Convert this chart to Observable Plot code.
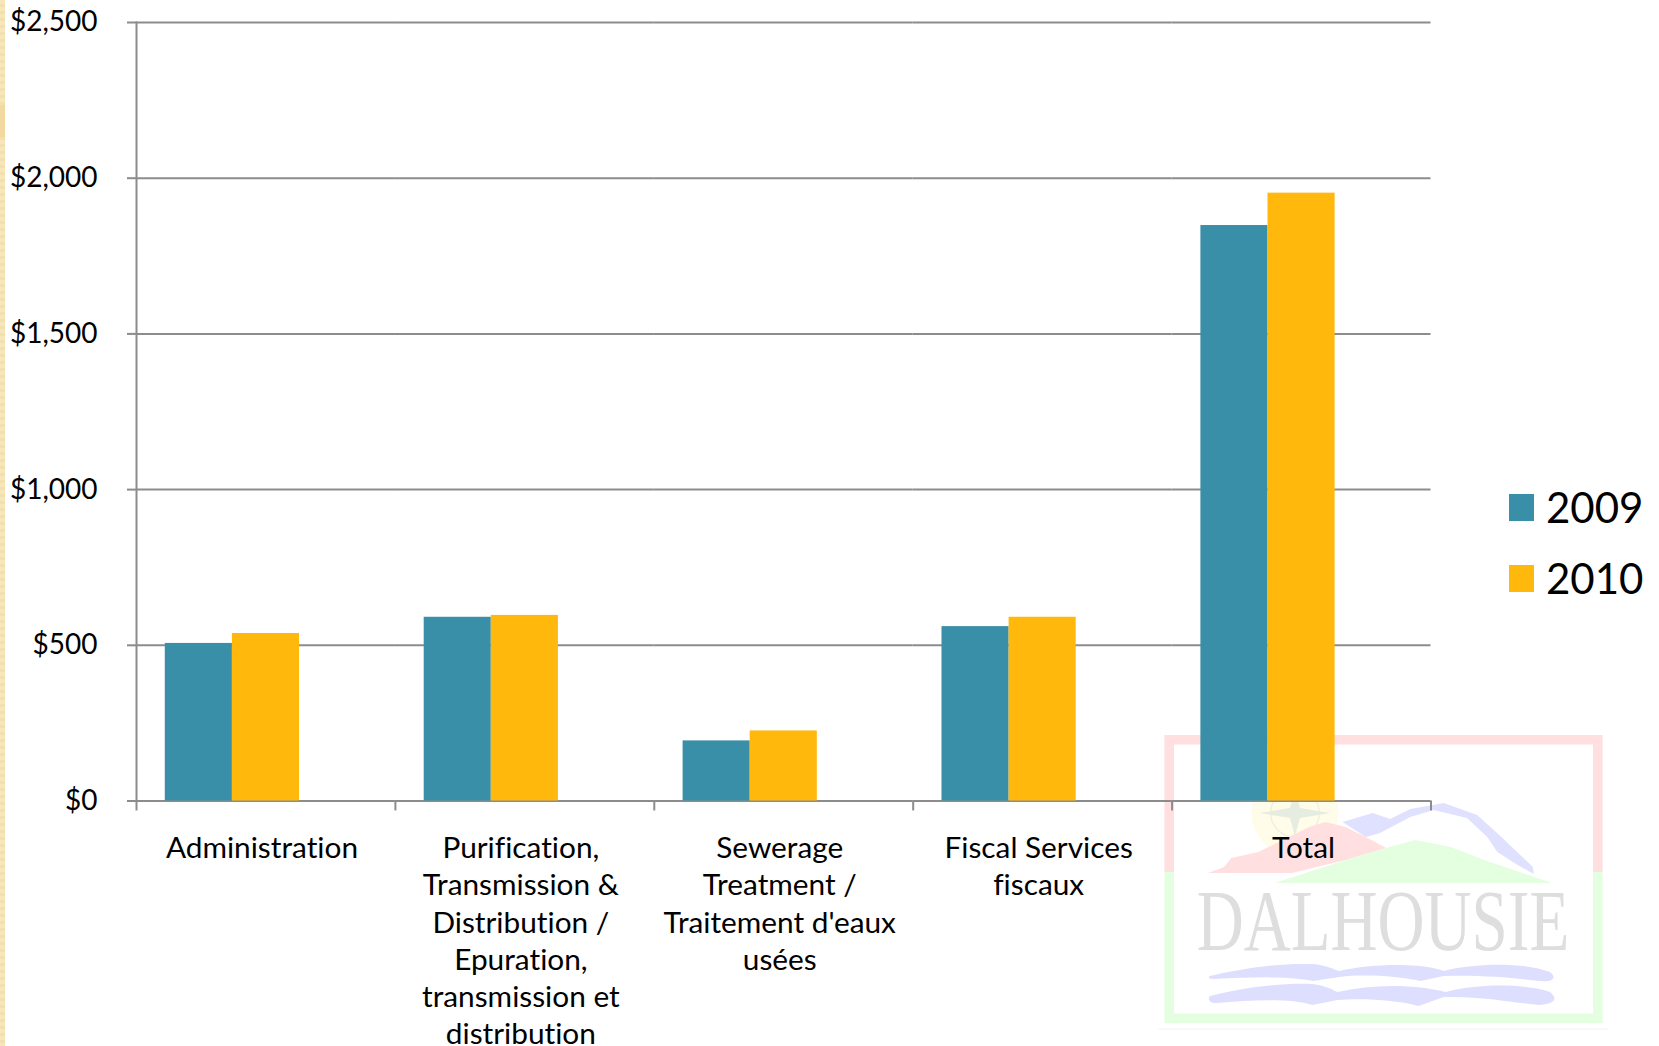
<!DOCTYPE html>
<html>
<head>
<meta charset="utf-8">
<script src="https://cdn.jsdelivr.net/npm/d3@7"></script>
<script src="https://cdn.jsdelivr.net/npm/@observablehq/plot@0.6"></script>
<style>
html,body{margin:0;padding:0;background:#fff;width:1659px;height:1046px;overflow:hidden;font-family:Lato,sans-serif;color:#000}
#strip{position:absolute;left:0;top:0;width:5px;height:1046px;background:repeating-linear-gradient(180deg,#f7e6ba 0 4px,#f1dfae 4px 7px)}
#patch{position:absolute;left:0;top:105px;width:5px;height:32px;background:#f3d99f}
#mark{position:absolute;left:0;top:0}
#chart{position:absolute;left:0;top:0}
#legend{position:absolute;left:1509px;top:0;font-size:42px;line-height:52px;font-variant-ligatures:none}
#legend div{position:absolute;left:0;white-space:nowrap;height:52px}
#legend i{display:inline-block;position:absolute;left:0;top:13px;width:25px;height:27px}
#legend span{position:absolute;left:37px;top:0}
</style>
</head>
<body>
<div id="strip"></div><div id="patch"></div>
<svg id="mark" width="1659" height="1046" aria-hidden="true">
 <g transform="translate(1130,0) scale(1.012,1) translate(-1130,0)">
  <line x1="1158" x2="1603" y1="1029" y2="1029" stroke="#f4f4f4" stroke-width="1"/>
  <path d="M1164 735H1597V872H1587.5V744.5H1173.5V872H1164Z" fill="#ffdfdf"/>
  <path d="M1164 872H1173.5V1013.5H1587.5V872H1597V1023H1164Z" fill="#e3ffdf"/>
  <circle cx="1293" cy="813" r="43" fill="#fffdea"/>
  <circle cx="1293" cy="813" r="24" fill="none" stroke="#eef0e2" stroke-width="1.5"/>
  <path d="M1258 813L1288 808L1293 790L1298 808L1328 813L1298 818L1293 836L1288 818Z" fill="#e6ecdf"/>
  <path d="M1340 822L1370 813L1387 819L1407 809L1440 803L1473 815L1497 837L1528 867L1529 874L1513 865L1493 852L1483 837L1463 818L1430 810L1407 817L1377 833L1363 837Z" fill="#e0e0ff"/>
  <path d="M1207 873L1223 867L1230 858L1257 852L1277 842L1307 827L1323 822L1343 827L1363 837L1383 848L1343 860L1290 873Z" fill="#ffdfdf"/>
  <path d="M1273 883L1337 862L1383 848L1412 840L1447 847L1480 860L1547 883Z" fill="#e3ffdf"/>
  <text x="1196" y="950" font-family="Liberation Serif" font-size="86" fill="#dedede" textLength="368" lengthAdjust="spacingAndGlyphs">DALHOUSIE</text>
  <path d="M1209 976C1235 970 1270 963 1310 964C1325 965 1332 970 1337 971C1370 963 1420 963 1440 971C1470 963 1520 962 1545 972C1552 978 1548 982 1535 981C1510 978 1480 975 1440 976L1417 981C1395 976 1360 974 1337 977L1311 981C1290 976 1250 977 1213 979C1207 979 1207 977 1209 976Z" fill="#dedeff"/>
  <path d="M1209 996C1240 988 1275 983 1310 984C1325 986 1330 990 1335 992C1370 984 1410 984 1442 992C1470 984 1520 983 1545 992C1552 998 1552 1003 1535 1005C1510 1003 1480 996 1440 997L1415 1006C1395 1000 1360 998 1335 1000L1310 1005C1290 998 1250 1000 1215 1003C1207 1003 1207 998 1209 996Z" fill="#dedeff"/>
 </g>
</svg>
<div id="chart"></div>
<div id="legend"></div>
<script>
const categories = [
  "Administration",
  "Purification,\nTransmission &\nDistribution /\nEpuration,\ntransmission et\ndistribution",
  "Sewerage\nTreatment /\nTraitement d'eaux\nusées",
  "Fiscal Services\nfiscaux",
  "Total"
];
const years = ["2009", "2010"];
const values2009 = [506, 590, 193, 560, 1848];
const values2010 = [538, 596, 225, 590, 1952];
const colors = ["#3a8fa8", "#ffb80b"];
const yTicks = [0, 500, 1000, 1500, 2000, 2500];
const axisGray = "#8c8c8c";
const fontFamily = "Lato, sans-serif";

const rows = [
  ...categories.map((category, i) => ({category, year: "2009", value: values2009[i]})),
  ...categories.map((category, i) => ({category, year: "2010", value: values2010[i]}))
];

const categoryLabels = (labels, dx) => Plot.text(labels, {
  fx: d => d, text: d => d, frameAnchor: "bottom", lineAnchor: "top",
  dy: 31, dx, lineHeight: 1.245, fontSize: 29.8, fill: "#000"
});

const plot = Plot.plot({
  width: 1659,
  height: 1046,
  marginLeft: 136,
  marginRight: 228.5,
  marginTop: 22,
  marginBottom: 245.5,
  style: {background: "transparent", fontFamily, fontSize: "29px", color: "#000", fontVariantLigatures: "none"},
  fx: {domain: categories, padding: 0, round: false, axis: null},
  x: {domain: ["2009", "2010", ""], paddingInner: 0, paddingOuter: 0.429, round: false, axis: null},
  y: {domain: [0, 2500], axis: null},
  color: {domain: years, range: colors},
  marks: [
    Plot.gridY(yTicks, {stroke: axisGray, strokeOpacity: 1, strokeWidth: 2}),
    Plot.barY(rows, {fx: "category", x: "year", y: "value", fill: "year"}),
    Plot.frame({anchor: "left", facet: "super", stroke: axisGray, strokeWidth: 2}),
    Plot.ruleX(categories, {fx: d => d, x: () => "2009", y1: 0, y2: -32, dx: -62.35, stroke: axisGray, strokeWidth: 2}),
    Plot.ruleX(categories.slice(-1), {fx: d => d, x: () => "", y1: 0, y2: -32, dx: 62.35, stroke: axisGray, strokeWidth: 2}),
    Plot.axisY(yTicks, {
      anchor: "left", tickSize: 9, tickPadding: 30, stroke: axisGray, strokeWidth: 2,
      tickFormat: d3.format("$,"), fill: "#000", fontSize: 28, label: null
    }),
    categoryLabels(categories.slice(0, 4), -4),
    categoryLabels(categories.slice(4), 2)
  ]
});
document.getElementById("chart").appendChild(plot);

const legend = d3.select("#legend");
years.forEach((y, i) => {
  const row = legend.append("div").style("top", `${481 + i * 71}px`);
  row.append("i").style("background", colors[i]);
  row.append("span").text(y);
});
</script>
</body>
</html>
